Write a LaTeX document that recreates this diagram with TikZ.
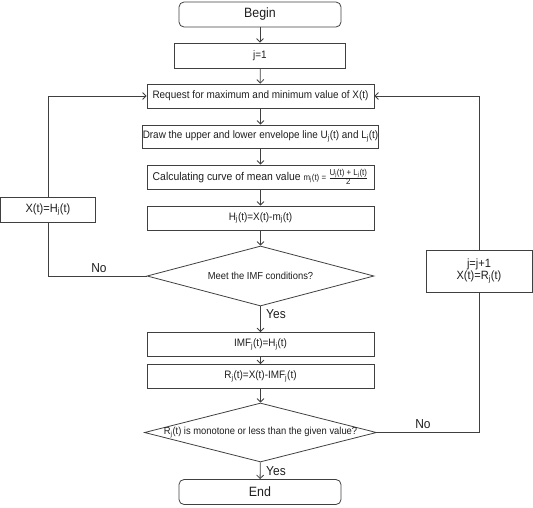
\documentclass[tikz,border=0pt]{standalone}
\usepackage{fontspec}
\setmainfont{Liberation Sans}[FakeStretch=0.92]
\usetikzlibrary{shapes.geometric,arrows.meta}
\newcommand\subj{\textsubscript{j}}
\definecolor{lc}{HTML}{404040}
\definecolor{tc}{HTML}{1E1E1E}
\begin{document}
\begin{tikzpicture}[x=1pt,y=-1pt,line width=0.8pt,
  box/.style={draw=lc,rectangle,minimum width=227pt,minimum height=24pt,inner sep=0pt,text=tc,font=\fontsize{10.8}{12}\selectfont},
  term/.style={box,rounded corners=5pt,minimum width=162pt,minimum height=25pt,font=\fontsize{13.5}{15}\selectfont},
  sbox/.style={box,align=center,font=\fontsize{12}{11.5}\selectfont},
  dec/.style={draw=lc,diamond,inner sep=0pt},
  dtext/.style={inner sep=0pt,text=tc,font=\fontsize{10.2}{12}\selectfont},
  lbl/.style={inner sep=0pt,text=tc,font=\fontsize{13}{14}\selectfont},
  arr/.style={draw=lc,-{Straight Barb[length=3.5pt,width=7pt]}},
  line/.style={draw=lc}]
\useasboundingbox (0,0) rectangle (533,507);
\node[term] (begin) at (260,14.5) {Begin};
\node[box,minimum width=171pt,minimum height=25pt] (j1) at (260,55.5) {j=1};
\node[box] (req) at (260.5,96) {Request for maximum and minimum value of X(t)};
\node[box,minimum height=23pt] (env) at (260.5,136.5) {Draw the upper and lower envelope line U\subj(t) and L\subj(t)};
\node[box,font=\fontsize{11.3}{12}\selectfont] (calc) at (260.5,177) {Calculating curve of mean value {\fontsize{8.6}{9}\selectfont m\subj(t) = $\frac{\hbox{U\subj(t) + L\subj(t)}}{\hbox{2}}$}};
\node[box] (hj) at (260.5,218) {H\subj(t)=X(t)-m\subj(t)};
\node[dec,minimum width=227pt,minimum height=60pt] (d1) at (260.5,276) {};
\node[dtext] (d1t) at (d1.center) {Meet the IMF conditions?};
\node[box] (imf) at (260.5,344.5) {IMF\subj(t)=H\subj(t)};
\node[box] (rj) at (260.5,376.5) {R\subj(t)=X(t)-IMF\subj(t)};
\node[dec,minimum width=232pt,minimum height=59pt] (d2) at (260.5,432.5) {};
\node[dtext] (d2t) at (d2.center) {R\subj(t) is monotone or less than the given value?};
\node[term] (end) at (260,492) {End};
\node[sbox,minimum width=95pt,minimum height=25pt] (xh) at (48,209.5) {X(t)=H\subj(t)};
\node[sbox,minimum width=106pt,minimum height=42pt] (jr) at (479,271) {j=j+1\\X(t)=R\subj(t)};
\draw[arr] (begin) -- (j1);
\draw[arr] (j1) -- (req);
\draw[arr] (req) -- (env);
\draw[arr] (env) -- (calc);
\draw[arr] (calc) -- (hj);
\draw[arr] (hj) -- (d1);
\draw[arr] (d1) -- (imf);
\draw[arr] (imf) -- (rj);
\draw[arr] (rj) -- (d2);
\draw[arr] (d2) -- (end);
\draw[line] (d1.west) -- (xh.south |- d1.west) -- (xh.south);
\draw[arr] (xh.north) -- (xh.north |- req.west) -- (req.west);
\draw[line] (d2.east) -- (jr.south |- d2.east) -- (jr.south);
\draw[arr] (jr.north) -- (jr.north |- req.east) -- (req.east);
\node[lbl] (no1) at (99,268) {No};
\node[lbl] (yes1) at (276,314) {Yes};
\node[lbl] (yes2) at (276,471) {Yes};
\node[lbl] (no2) at (423,424) {No};
\end{tikzpicture}
\end{document}
